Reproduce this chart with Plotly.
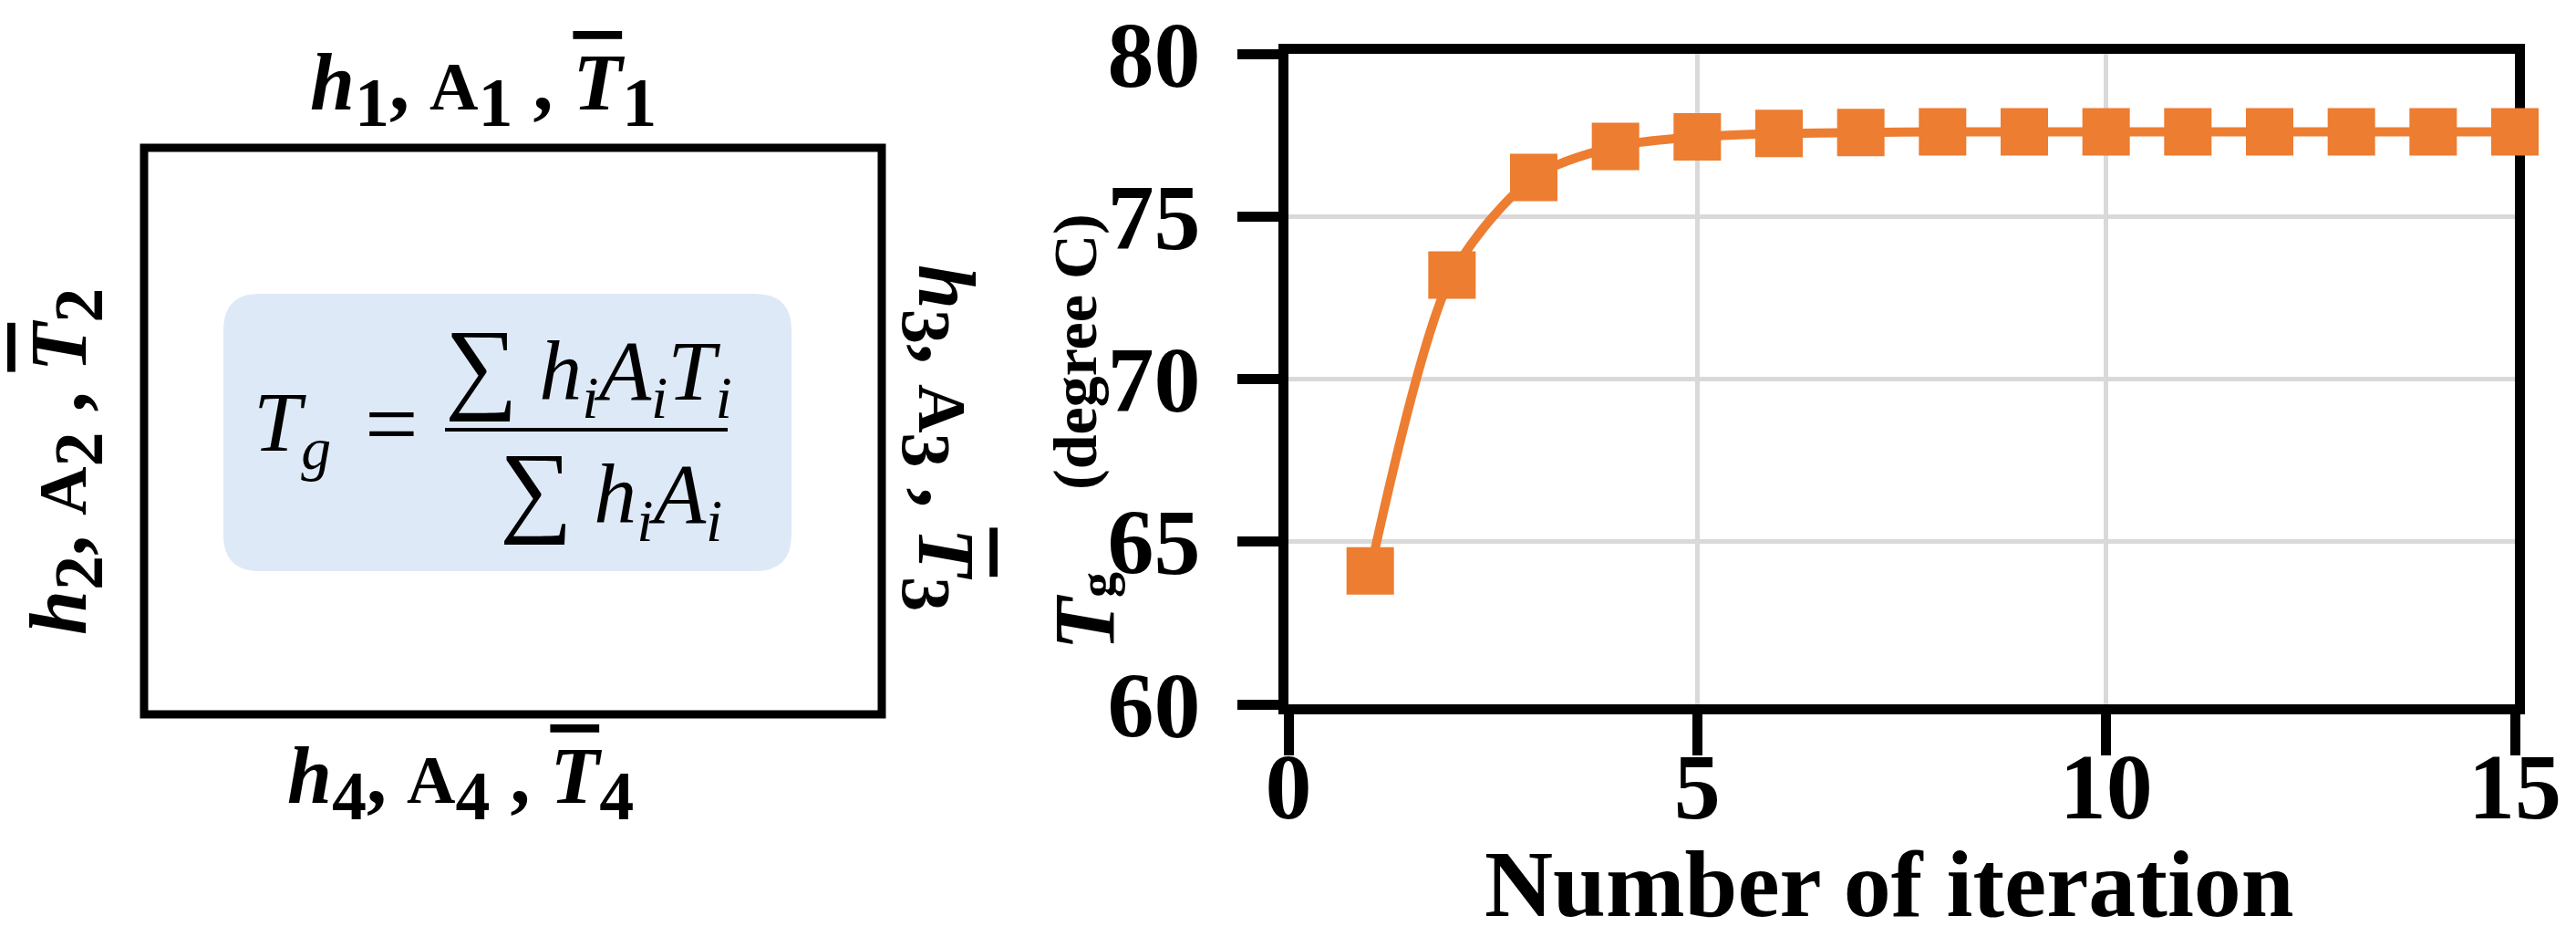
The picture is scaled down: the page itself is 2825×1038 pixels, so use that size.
import plotly.graph_objects as go

W, H = 2825, 1038
OFF = 8  # default body margin of the html page

# data
iterations = list(range(1, 16))
tg_values = [64.1, 73.2, 76.2, 77.15, 77.45, 77.55, 77.58, 77.6, 77.6, 77.6,
             77.6, 77.6, 77.6, 77.6, 77.6]
x_ticks = [0, 5, 10, 15]
y_ticks = [60, 65, 70, 75, 80]

ORANGE = "#ED7D31"
SERIF = "Liberation Serif"
FW, FH = W - 2 * OFF, H - 2 * OFF


def px(x):
    return (x - OFF) / FW


def py(y):
    return 1 - (y - OFF) / FH


fig = go.Figure()
fig.add_trace(go.Scatter(
    x=iterations, y=tg_values, mode="lines+markers",
    line=dict(color=ORANGE, width=10, shape="spline", smoothing=0.8),
    marker=dict(symbol="square", size=52, color=ORANGE),
    cliponaxis=False, hoverinfo="skip", showlegend=False,
))

axis_style = dict(
    showline=True, linecolor="black", linewidth=11, mirror=True,
    ticks="outside", ticklen=45, tickwidth=11, tickcolor="black",
    showgrid=True, gridcolor="#d9d9d9", gridwidth=5, zeroline=False,
    tickfont=dict(family=SERIF, size=102, color="black", weight="bold"),
    ticklabeloverflow="allow", layer="below traces", automargin=False,
)
fig.update_xaxes(range=[0, 15], tickvals=x_ticks, domain=[px(1413), px(2758)],
                 ticklabelstandoff=-53, **axis_style)
fig.update_yaxes(range=[60, 80], tickvals=y_ticks, domain=[py(772), py(59)],
                 ticklabelstandoff=20, **axis_style)

# left panel: control volume with the four faces
shapes = [
    dict(type="rect", xref="paper", yref="paper",
         x0=px(158), x1=px(967), y0=py(162), y1=py(783),
         line=dict(color="black", width=9), fillcolor="rgba(0,0,0,0)"),
]
bx0, bx1, by0, by1, r = 245, 868, 322, 626, 40
path = (f"M {px(bx0 + r)},{py(by0)} L {px(bx1 - r)},{py(by0)} "
        f"Q {px(bx1)},{py(by0)} {px(bx1)},{py(by0 + r)} "
        f"L {px(bx1)},{py(by1 - r)} Q {px(bx1)},{py(by1)} {px(bx1 - r)},{py(by1)} "
        f"L {px(bx0 + r)},{py(by1)} Q {px(bx0)},{py(by1)} {px(bx0)},{py(by1 - r)} "
        f"L {px(bx0)},{py(by0 + r)} Q {px(bx0)},{py(by0)} {px(bx0 + r)},{py(by0)} Z")
shapes.append(dict(type="path", xref="paper", yref="paper", path=path,
                   fillcolor="#DDE9F6", line=dict(width=0), layer="below"))
shapes.append(dict(type="line", xref="paper", yref="paper",
                   x0=px(488), x1=px(798), y0=py(471), y1=py(471),
                   line=dict(color="black", width=4)))
fig.update_layout(shapes=shapes)


def face_label(n):
    sub = f"<sub><span style='font-size:76px'>{n}</span></sub>"
    return (f"<b><i>h</i>{sub}<span style='font-size:88px'>, </span>"
            f"<span style='font-size:74px'>A</span>{sub}"
            f"<span style='font-size:88px'> , </span>"
            f"<i><span style='text-decoration:overline'>T</span></i>{sub}</b>")


label_font = dict(family=SERIF, size=88, color="black")
ann = [
    dict(text=face_label(1), x=px(530), y=py(98), textangle=0),
    dict(text=face_label(4), x=px(505), y=py(858), textangle=0),
    dict(text=face_label(2), x=px(72), y=py(506), textangle=-90),
    dict(text=face_label(3), x=px(1030), y=py(480), textangle=90),
]
for a in ann:
    a.update(xref="paper", yref="paper", showarrow=False, font=label_font,
             xanchor="center", yanchor="middle")

formula_font = dict(family=SERIF, size=94, color="black")
ann += [
    dict(text="<i>T</i><sub><i>g</i></sub>", x=px(276), y=py(469),
         xanchor="left", yanchor="middle"),
    dict(text="<span style='font-size:104px'>=</span>", x=px(429), y=py(464),
         xanchor="center", yanchor="middle"),
    dict(text="<span style='font-size:112px'>∑</span> <i>h</i><sub><i>i</i></sub>"
              "<i>A</i><sub><i>i</i></sub><i>T</i><sub><i>i</i></sub>",
         x=px(486), y=py(405), xanchor="left", yanchor="middle"),
    dict(text="<span style='font-size:112px'>∑</span> <i>h</i><sub><i>i</i></sub>"
              "<i>A</i><sub><i>i</i></sub>",
         x=px(546), y=py(540), xanchor="left", yanchor="middle"),
]
for a in ann[4:]:
    a.update(xref="paper", yref="paper", showarrow=False, font=formula_font)

# axis titles as annotations for exact placement
ann += [
    dict(text="<b>Number of iteration</b>", x=px(2072), y=py(968),
         font=dict(family=SERIF, size=104, color="black"), textangle=0),
    dict(text="<b><i>T</i><span style='font-size:56px'>g</span></b>",
         x=px(1190), y=py(670),
         font=dict(family=SERIF, size=95, color="black"), textangle=-90),
    dict(text="<b>(degree C)</b>", x=px(1179), y=py(386),
         font=dict(family=SERIF, size=68, color="black"), textangle=-90),
]
for a in ann[-3:]:
    a.update(xref="paper", yref="paper", showarrow=False,
             xanchor="center", yanchor="middle")

fig.update_layout(
    annotations=ann,
    width=FW, height=FH,
    margin=dict(l=0, r=0, t=0, b=0),
    paper_bgcolor="white", plot_bgcolor="white",
    showlegend=False,
)

fig.write_html("out.html", config={"displayModeBar": False})
